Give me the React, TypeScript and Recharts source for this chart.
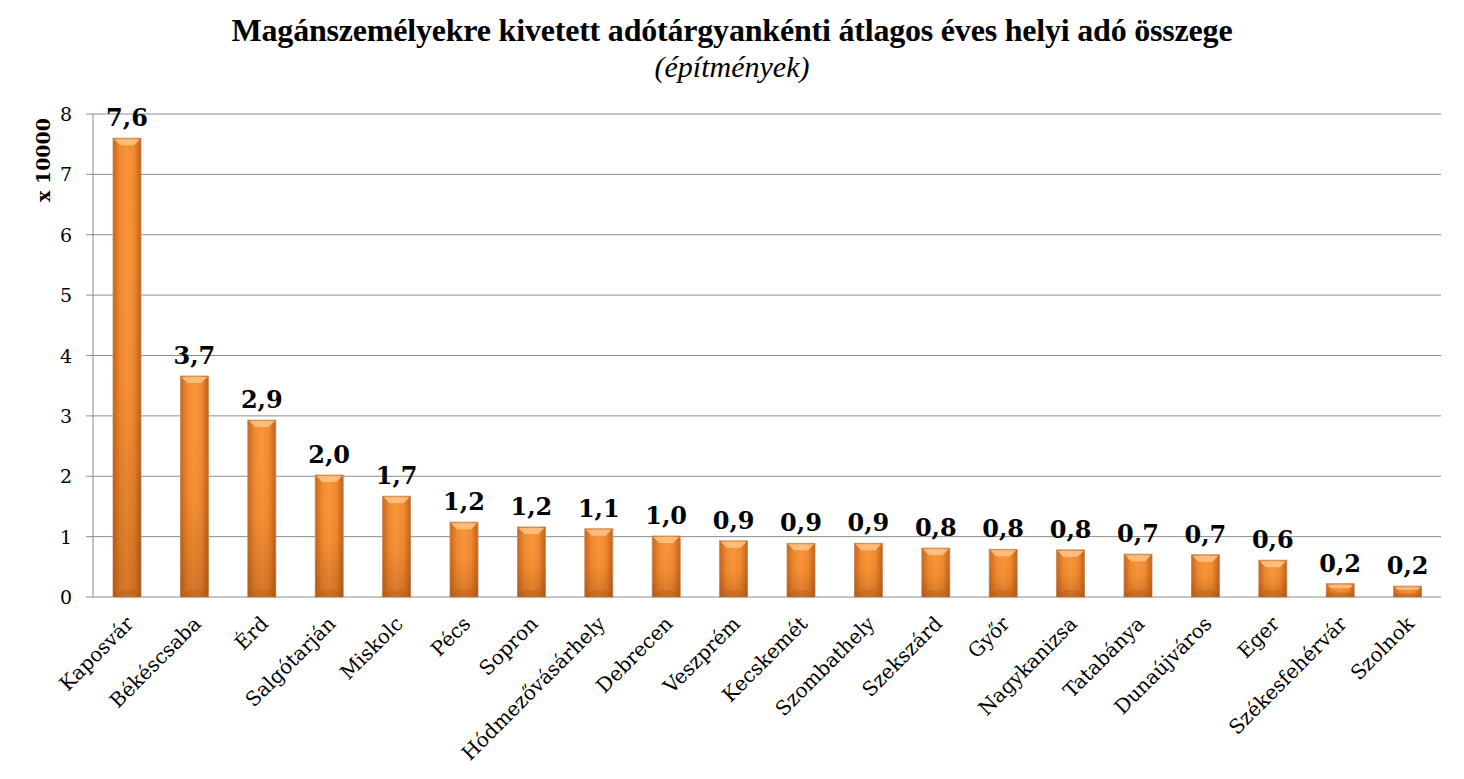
import { BarChart, Bar, XAxis, YAxis, CartesianGrid, LabelList } from "recharts";

// Cities, in the order shown (largest first).
const CITIES = [
  "Kaposvár",
  "Békéscsaba",
  "Érd",
  "Salgótarján",
  "Miskolc",
  "Pécs",
  "Sopron",
  "Hódmezővásárhely",
  "Debrecen",
  "Veszprém",
  "Kecskemét",
  "Szombathely",
  "Szekszárd",
  "Győr",
  "Nagykanizsa",
  "Tatabánya",
  "Dunaújváros",
  "Eger",
  "Székesfehérvár",
  "Szolnok",
];

// Average yearly local tax per taxable object, x 10000 Ft.
const VALUES = [
  7.6, 3.66, 2.93, 2.02, 1.67, 1.24, 1.16, 1.13, 1.01, 0.93, 0.89, 0.89, 0.81,
  0.79, 0.78, 0.71, 0.7, 0.61, 0.22, 0.18,
];

const Y_TICKS = [0, 1, 2, 3, 4, 5, 6, 7, 8];
const BOUNDARY_TICKS = CITIES.map((_, i) => i).concat(CITIES.length);

const TITLE = "Magánszemélyekre kivetett adótárgyankénti átlagos éves helyi adó összege";
const SUBTITLE = "(építmények)";
const Y_LABEL = "x 10000";

const FONT = "DejaVu Serif";
const GRID = "#8c8c8c";

const data = CITIES.map((name, i) => ({ name, value: VALUES[i] }));

const fmt = (v: number) => v.toFixed(1).replace(".", ",");

function BarShape(props: any) {
  const { x, y, width, height } = props;
  if (!height || height <= 0) return null;
  const bevel = Math.min(7, height / 3);
  return (
    <g>
      <rect x={x} y={y} width={width} height={height} fill="url(#barH)" stroke="#c98a55" strokeWidth={0.8} />
      <rect x={x} y={y} width={width} height={height} fill="url(#barV)" />
      <polygon
        points={`${x + 1},${y + 1} ${x + width - 1},${y + 1} ${x + width - bevel},${y + bevel} ${x + bevel},${y + bevel}`}
        fill="#fdc489"
        opacity={0.85}
      />
      <polygon
        points={`${x + 1},${y + height - 1} ${x + width - 1},${y + height - 1} ${x + width - bevel},${y + height - bevel} ${x + bevel},${y + height - bevel}`}
        fill="#a4521a"
        opacity={0.25}
      />
    </g>
  );
}

function CityTick(props: any) {
  const { x, y, payload } = props;
  const ax = x + 8;
  const ay = y + 20;
  return (
    <text
      x={ax}
      y={ay}
      textAnchor="end"
      transform={`rotate(-45 ${ax} ${ay})`}
      fontFamily={FONT}
      fontSize={20}
      fill="#000"
    >
      {payload.value}
    </text>
  );
}

function ValueTick(props: any) {
  const { x, y, payload } = props;
  return (
    <text x={x} y={y + 7} textAnchor="end" fontFamily={FONT} fontSize={19} fill="#000">
      {payload.value}
    </text>
  );
}

function ValueLabel(props: any) {
  const { x, y, width, value } = props;
  return (
    <text
      x={x + width / 2}
      y={y - 12}
      textAnchor="middle"
      fontFamily={FONT}
      fontWeight="bold"
      fontSize={24}
      fill="#000"
    >
      {fmt(value)}
    </text>
  );
}

export default function App() {
  return (
    <div style={{ margin: -8, position: "relative", width: 1464, height: 779, background: "#fff" }}>
      <div
        style={{
          position: "absolute",
          top: 12,
          left: 0,
          width: 1464,
          textAlign: "center",
          fontFamily: "'Liberation Serif', serif",
          fontWeight: "bold",
          fontSize: 32,
          lineHeight: "36px",
          letterSpacing: -0.2,
        }}
      >
        {TITLE}
      </div>
      <div
        style={{
          position: "absolute",
          top: 50,
          left: 0,
          width: 1464,
          textAlign: "center",
          fontFamily: "'Liberation Serif', serif",
          fontStyle: "italic",
          fontSize: 30,
          lineHeight: "34px",
        }}
      >
        {SUBTITLE}
      </div>
      <BarChart
        width={1464}
        height={779}
        data={data}
        margin={{ top: 114, right: 23, bottom: 12, left: 0 }}
        style={{ position: "absolute", top: 0, left: 0 }}
      >
        <CartesianGrid horizontal vertical={false} stroke={GRID} yAxisId="y" xAxisId="cat" />
        <XAxis
          xAxisId="bounds"
          type="number"
          domain={[0, CITIES.length]}
          ticks={BOUNDARY_TICKS}
          tick={false}
          tickSize={8}
          tickLine={{ stroke: GRID }}
          axisLine={{ stroke: GRID }}
          height={0}
          allowDataOverflow
        />
        <XAxis
          xAxisId="cat"
          dataKey="name"
          interval={0}
          tick={<CityTick />}
          tickLine={false}
          axisLine={false}
          height={170}
        />
        <YAxis
          yAxisId="y"
          domain={[0, 8]}
          ticks={Y_TICKS}
          width={93}
          tickSize={7}
          tickMargin={14}
          tickLine={{ stroke: GRID }}
          axisLine={{ stroke: GRID }}
          tick={<ValueTick />}
          label={{
            content: () => (
              <text
                x={50}
                y={160}
                transform="rotate(-90 50 160)"
                textAnchor="middle"
                fontFamily={FONT}
                fontWeight="bold"
                fontSize={19}
                fill="#000"
              >
                {Y_LABEL}
              </text>
            ),
          }}
        />
        <defs>
          <linearGradient id="barH" x1="0" y1="0" x2="1" y2="0">
            <stop offset="0%" stopColor="#c8651f" />
            <stop offset="25%" stopColor="#f08a2c" />
            <stop offset="50%" stopColor="#f9943a" />
            <stop offset="75%" stopColor="#f08a2c" />
            <stop offset="100%" stopColor="#c25f1c" />
          </linearGradient>
          <linearGradient id="barV" x1="0" y1="0" x2="0" y2="1">
            <stop offset="0%" stopColor="#ffffff" stopOpacity={0} />
            <stop offset="55%" stopColor="#8a3c08" stopOpacity={0.05} />
            <stop offset="100%" stopColor="#7a3406" stopOpacity={0.3} />
          </linearGradient>
        </defs>
        <Bar
          dataKey="value"
          xAxisId="cat"
          yAxisId="y"
          barSize={28}
          shape={<BarShape />}
          isAnimationActive={false}
        >
          <LabelList dataKey="value" content={<ValueLabel />} />
        </Bar>
      </BarChart>
    </div>
  );
}
